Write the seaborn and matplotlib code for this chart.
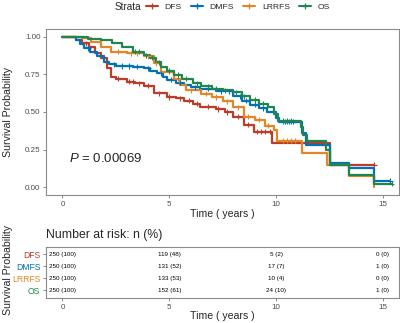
import numpy as np
import pandas as pd
import matplotlib
matplotlib.use("Agg")
import matplotlib.pyplot as plt
from matplotlib.lines import Line2D
import seaborn as sns

# ---- data ----
strata = ["DFS", "DMFS", "LRRFS", "OS"]
colors = ["#BC3C29", "#0072B5", "#E18727", "#20854E"]

dfs_time = [0, 0.65, 0.9, 1.24, 1.5, 1.79, 2.1, 2.25, 2.5, 3.0, 3.4, 3.8, 4.27, 4.9, 5.3,
            5.67, 6.1, 6.45, 7.2, 7.6, 8.0, 8.5, 8.95, 9.8, 12.5, 14.6]
dfs_surv = [1.0, 0.98, 0.955, 0.93, 0.89, 0.857, 0.79, 0.735, 0.72, 0.70, 0.69, 0.675, 0.625,
            0.60, 0.59, 0.575, 0.555, 0.536, 0.52, 0.50, 0.47, 0.415, 0.37, 0.295, 0.15, 0.15]

dmfs_time = [0, 0.62, 0.8, 1.0, 1.3, 1.63, 1.94, 2.2, 2.5, 3.3, 3.8, 4.1, 4.43, 4.7, 4.9, 5.3,
             5.67, 6.0, 6.45, 7.2, 8.0, 8.4, 8.8, 9.2, 9.57, 10.0, 10.15, 11.2, 11.4, 12.5,
             13.4, 14.6, 15.35]
dmfs_surv = [1.0, 0.98, 0.95, 0.923, 0.895, 0.868, 0.834, 0.815, 0.805, 0.80, 0.79, 0.775,
             0.757, 0.73, 0.713, 0.695, 0.68, 0.665, 0.655, 0.636, 0.603, 0.575, 0.548, 0.525,
             0.503, 0.46, 0.437, 0.36, 0.283, 0.16, 0.128, 0.044, 0.044]

lrrfs_time = [0, 0.9, 1.32, 1.79, 2.25, 3.0, 3.8, 4.27, 4.59, 5.2, 5.5, 5.8, 6.5, 7.0, 7.5,
              8.0, 8.5, 9.0, 9.5, 9.9, 10.05, 11.2, 12.4, 13.4, 14.6]
lrrfs_surv = [1.0, 0.99, 0.967, 0.934, 0.90, 0.89, 0.868, 0.824, 0.768, 0.72, 0.68, 0.645,
              0.62, 0.60, 0.57, 0.53, 0.47, 0.448, 0.41, 0.38, 0.31, 0.228, 0.146, 0.073, 0.0]

os_time = [0, 0.85, 1.2, 1.8, 2.3, 2.8, 3.3, 3.8, 4.1, 4.4, 4.6, 4.9, 5.2, 5.6, 6.1, 6.5,
           7.0, 7.5, 8.0, 8.4, 8.8, 9.2, 9.6, 9.9, 10.1, 11.15, 11.25, 11.45, 12.35, 12.5,
           13.4, 14.6, 15.4]
os_surv = [1.0, 0.995, 0.985, 0.975, 0.955, 0.93, 0.90, 0.875, 0.86, 0.83, 0.80, 0.775,
           0.745, 0.72, 0.69, 0.67, 0.655, 0.645, 0.63, 0.605, 0.58, 0.555, 0.53, 0.49, 0.44,
           0.40, 0.35, 0.305, 0.25, 0.146, 0.084, 0.025, 0.025]

# censoring times (+ marks)
dfs_cens = [1.1, 2.6, 3.1, 3.3, 3.6, 4.0, 4.5, 5.0, 5.5, 5.9, 6.3, 6.8, 7.3, 7.7, 8.2, 8.7,
            9.1, 9.3, 9.5, 9.7, 14.6]
dmfs_cens = [1.2, 2.4, 2.8, 3.1, 3.5, 4.0, 4.6, 5.1, 5.5, 6.2, 6.8, 7.4, 7.8, 8.3, 8.6,
             9.0, 9.4, 10.4, 10.6, 10.8, 15.35]
lrrfs_cens = [2.6, 3.2, 3.5, 4.0, 4.4, 5.0, 5.4, 6.0, 6.7, 7.2, 7.7, 8.2, 8.7, 9.2, 9.6,
              10.3, 10.5, 10.7, 10.9]
os_cens = [3.4, 3.6, 3.9, 4.2, 4.5, 5.0, 5.4, 5.8, 6.3, 6.8, 7.2, 7.6, 8.1, 8.5, 9.0,
           9.4, 10.3, 10.5, 10.7, 15.4]

risk_times = [0, 5, 10, 15]
risk_n = {"DFS": [250, 119, 5, 0], "DMFS": [250, 131, 17, 1],
          "LRRFS": [250, 133, 10, 0], "OS": [250, 152, 24, 1]}
risk_pct = {"DFS": [100, 48, 2, 0], "DMFS": [100, 52, 7, 0],
            "LRRFS": [100, 53, 4, 0], "OS": [100, 61, 10, 0]}
p_text = "0.00069"

curves = {"DFS": (dfs_time, dfs_surv, dfs_cens), "DMFS": (dmfs_time, dmfs_surv, dmfs_cens),
          "LRRFS": (lrrfs_time, lrrfs_surv, lrrfs_cens), "OS": (os_time, os_surv, os_cens)}

# ---- tables ----
steps, marks = [], []
for s in strata:
    t, v, c = curves[s]
    steps.append(pd.DataFrame({"time": t, "surv": v, "strata": s}))
    idx = np.searchsorted(t, c, side="right") - 1
    marks.append(pd.DataFrame({"time": c, "surv": np.array(v)[idx], "strata": s}))
steps = pd.concat(steps, ignore_index=True)
marks = pd.concat(marks, ignore_index=True)
pal = dict(zip(strata, colors))

# ---- style ----
sns.set_style("white")
plt.rcParams["font.family"] = ["Liberation Sans", "DejaVu Sans"]
plt.rcParams.update({
    "axes.edgecolor": "#8a8a8a", "axes.linewidth": 0.8,
    "xtick.color": "#8a8a8a", "ytick.color": "#8a8a8a",
    "xtick.labelcolor": "#4d4d4d", "ytick.labelcolor": "#4d4d4d",
    "xtick.major.size": 2.5, "ytick.major.size": 2.5,
    "xtick.major.width": 0.7, "ytick.major.width": 0.7,
    "xtick.bottom": True, "ytick.left": True,
    "mathtext.fontset": "custom", "mathtext.it": "Liberation Sans:italic",
    "mathtext.rm": "Liberation Sans",
})

fig = plt.figure(figsize=(4.0, 3.23), dpi=100)
W, H = 400, 323
ax = fig.add_axes([46 / W, 1 - 195 / H, 353 / W, 166 / H])
ax2 = fig.add_axes([46 / W, 1 - 298.3 / H, 353 / W, 51.6 / H])

sns.lineplot(data=steps, x="time", y="surv", hue="strata", palette=pal, hue_order=strata,
             drawstyle="steps-post", estimator=None, sort=False, linewidth=1.6,
             legend=False, ax=ax)
sns.scatterplot(data=marks, x="time", y="surv", hue="strata", palette=pal, hue_order=strata,
                marker="+", s=14, linewidth=0.8, legend=False, ax=ax, zorder=3)

xlim = (-0.77, 15.75)
ax.set_xlim(*xlim)
ax.set_ylim(-0.05, 1.05)
ax.set_xticks(risk_times)
ax.set_yticks([0, 0.25, 0.5, 0.75, 1.0])
ax.set_yticklabels(["0.00", "0.25", "0.50", "0.75", "1.00"])
ax.tick_params(labelsize=5.8, pad=1.5)
ax.set_xlabel("Time ( years )", fontsize=7.6, va="center")
ax.set_ylabel("Survival Probability", fontsize=7.6, va="center")
ax.xaxis.set_label_coords(0.5, -0.115)
ax.yaxis.set_label_coords(-0.108, 0.5)
ax.text(0.3, 0.195, r"$\mathit{P}$ = " + p_text, fontsize=9.5, va="center", ha="left")

# legend
handles = [Line2D([], [], color=c, lw=1.5, marker="+", markersize=4.5, markeredgewidth=0.9)
           for c in colors]
fig.text(115 / W, 1 - 7 / H, "Strata", fontsize=7.2, va="center", ha="left")
fig.legend(handles, strata, loc="center left", bbox_to_anchor=(146 / W, 1 - 7 / H),
           ncol=4, frameon=False, fontsize=6.1, handlelength=1.4, handletextpad=0.8,
           columnspacing=1.1, borderpad=0, borderaxespad=0)

# risk table
for i, s in enumerate(strata):
    for t, n, p in zip(risk_times, risk_n[s], risk_pct[s]):
        ax2.text(t, i, f"{n} ({p})", fontsize=4.5, ha="center", va="center", color="black")
ax2.set_xlim(*xlim)
ax2.set_ylim(3.68, -0.62)
ax2.set_xticks(risk_times)
ax2.set_yticks(range(len(strata)))
ax2.set_yticklabels(strata)
for lab, c in zip(ax2.get_yticklabels(), colors):
    lab.set_color(c)
ax2.tick_params(axis="x", labelsize=5.8, pad=1.5)
ax2.tick_params(axis="y", labelsize=6.2, pad=1.5)
ax2.set_xlabel("Time ( years )", fontsize=7.6, va="center")
ax2.set_ylabel("Survival Probability", fontsize=7.6, va="center")
ax2.xaxis.set_label_coords(0.5, -0.34)
ax2.yaxis.set_label_coords(-0.108, 0.55)
ax2.text(0.0, 1.23, "Number at risk: n (%)", fontsize=8.8, transform=ax2.transAxes,
         ha="left", va="center")

fig.savefig("out.png", dpi=100)
